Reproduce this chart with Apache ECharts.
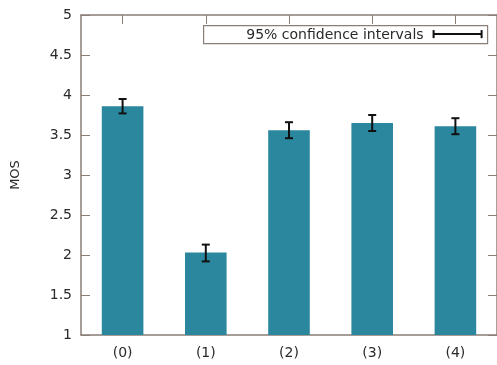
<!DOCTYPE html>
<html><head><meta charset="utf-8">
<script src="https://cdn.jsdelivr.net/npm/echarts@6/dist/echarts.min.js"></script>
<style>html,body{margin:0;padding:0;background:#fff}#c{width:497px;height:365px}</style>
</head><body><div id="c"></div>
<script>
var categories = ['(0)', '(1)', '(2)', '(3)', '(4)'];
var mos = [3.86, 2.03, 3.56, 3.65, 3.61];
var ciLow = [3.77, 1.92, 3.46, 3.55, 3.51];
var ciHigh = [3.95, 2.13, 3.66, 3.75, 3.71];
var yTicks = [1, 1.5, 2, 2.5, 3, 3.5, 4, 4.5, 5];

var axisColor = '#8a7e77';
var textColor = '#2a2a2a';
var font = 'DejaVu Sans, sans-serif';

var chart = echarts.init(document.getElementById('c'), null, {renderer: 'canvas'});
var errData = categories.map(function (c, i) { return [i, ciLow[i], ciHigh[i]]; });

chart.setOption({
  animation: false,
  grid: {left: 81, top: 15, width: 417, height: 320, containLabel: false},
  xAxis: [{
    type: 'category', data: categories, position: 'bottom',
    axisLine: {lineStyle: {color: axisColor, width: 1.5}},
    axisTick: {show: false},
    axisLabel: {color: textColor, fontSize: 14, fontFamily: font, margin: 11}
  }, {
    type: 'category', data: categories, position: 'top',
    axisLine: {lineStyle: {color: axisColor, width: 1.5}},
    axisTick: {show: true, inside: true, alignWithLabel: true, length: 9, lineStyle: {color: axisColor}},
    axisLabel: {show: false}
  }],
  yAxis: [{
    type: 'value', min: 1, max: 5, interval: 0.5, position: 'left',
    name: 'MOS', nameLocation: 'middle', nameGap: 59, nameRotate: 90,
    nameTextStyle: {color: textColor, fontSize: 13, fontFamily: font},
    axisLine: {show: true, lineStyle: {color: axisColor, width: 1.5}},
    axisTick: {show: true, inside: true, length: 9, lineStyle: {color: axisColor}},
    axisLabel: {color: textColor, fontSize: 14, fontFamily: font, margin: 9,
      formatter: function (v) { return String(v); }},
    splitLine: {show: false}
  }, {
    type: 'value', min: 1, max: 5, interval: 0.5, position: 'right',
    axisLine: {show: true, lineStyle: {color: axisColor, width: 1.5}},
    axisTick: {show: true, inside: true, length: 9, lineStyle: {color: axisColor}},
    axisLabel: {show: false},
    splitLine: {show: false}
  }],
  series: [{
    type: 'bar', data: mos, barWidth: '50%', xAxisIndex: 0, yAxisIndex: 0,
    itemStyle: {color: '#2a879e'}, z: 2
  }, {
    type: 'custom', xAxisIndex: 0, yAxisIndex: 0, z: 5,
    data: errData,
    renderItem: function (params, api) {
      var lo = api.coord([api.value(0), api.value(1)]);
      var hi = api.coord([api.value(0), api.value(2)]);
      var hw = 4;
      var st = {stroke: '#111', lineWidth: 2};
      return {type: 'group', children: [
        {type: 'line', shape: {x1: lo[0], y1: lo[1], x2: hi[0], y2: hi[1]}, style: st},
        {type: 'line', shape: {x1: lo[0] - hw, y1: lo[1], x2: lo[0] + hw, y2: lo[1]}, style: st},
        {type: 'line', shape: {x1: hi[0] - hw, y1: hi[1], x2: hi[0] + hw, y2: hi[1]}, style: st}
      ]};
    }
  }],
  graphic: [{
    type: 'group', left: 203, top: 25, z: 10,
    children: [
      {type: 'rect', shape: {x: 0, y: 0, width: 284, height: 18},
        style: {fill: '#fff', stroke: axisColor, lineWidth: 1.2}},
      {type: 'text', x: 220, y: 9.5, style: {text: '95% confidence intervals', fill: textColor,
        font: '14px DejaVu Sans, sans-serif', textAlign: 'right', textVerticalAlign: 'middle'}},
      {type: 'line', shape: {x1: 230, y1: 8.5, x2: 278, y2: 8.5}, style: {stroke: '#111', lineWidth: 2}},
      {type: 'line', shape: {x1: 230, y1: 4.5, x2: 230, y2: 12.5}, style: {stroke: '#111', lineWidth: 2}},
      {type: 'line', shape: {x1: 278, y1: 4.5, x2: 278, y2: 12.5}, style: {stroke: '#111', lineWidth: 2}}
    ]
  }]
});
</script></body></html>
